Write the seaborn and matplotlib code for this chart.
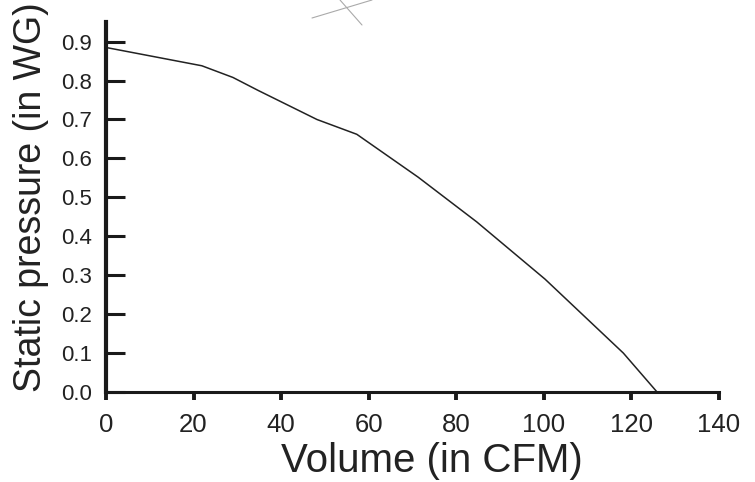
import matplotlib
matplotlib.use("Agg")
import matplotlib.pyplot as plt
import seaborn as sns
import pandas as pd
from matplotlib.lines import Line2D

volume_cfm = [0, 21.9, 29.0, 34.7, 48.2, 57.3, 71.3, 84.7, 100.3, 118.2, 125.9]
static_pressure = [0.885, 0.838, 0.808, 0.775, 0.70, 0.662, 0.552, 0.437, 0.29, 0.10, 0.0]
x_ticks = [0, 20, 40, 60, 80, 100, 120, 140]
y_ticks = [0.0, 0.1, 0.2, 0.3, 0.4, 0.5, 0.6, 0.7, 0.8, 0.9]

df = pd.DataFrame({"Volume": volume_cfm, "Pressure": static_pressure})

sns.set_style("white")
plt.rcParams["font.family"] = ["Liberation Sans", "DejaVu Sans"]

fig = plt.figure(figsize=(7.55, 4.82), dpi=100)
ax = fig.add_axes([0.1404, 0.1867, 0.8116, 0.7673])

sns.lineplot(data=df, x="Volume", y="Pressure", ax=ax, color="#222222",
             linewidth=1.1, sort=False)

ax.set_xlim(0, 140)
ax.set_ylim(0, 0.95)
ax.set_xticks(x_ticks)
ax.set_xticklabels([str(t) for t in x_ticks])
ax.set_yticks(y_ticks)
ax.set_yticklabels([f"{t:.1f}" for t in y_ticks])

for s in ["top", "right"]:
    ax.spines[s].set_visible(False)
ax.spines["left"].set_linewidth(3.0)
ax.spines["bottom"].set_linewidth(2.2)
ax.spines["left"].set_color("#1a1a1a")
ax.spines["bottom"].set_color("#1a1a1a")

ax.tick_params(axis="y", direction="in", length=14, width=2.2, colors="#1a1a1a",
               labelsize=16, pad=10, left=True)
ax.tick_params(axis="x", direction="out", length=6, width=2.8, colors="#1a1a1a",
               labelsize=18.5, pad=9, bottom=True)
for lab in ax.get_xticklabels() + ax.get_yticklabels():
    lab.set_color("#222222")

ax.set_xlabel("Volume (in CFM)", fontsize=29, color="#222222")
ax.set_ylabel("Static pressure (in WG)", fontsize=27, color="#222222")
W, H = 755, 482
ax_w = 0.8116 * W
ax_h = 0.7673 * H
# label positions in axes coordinates
ax.xaxis.set_label_coords((432 - 106) / ax_w, -(472 - 392) / ax_h)
ax.yaxis.set_label_coords(-(106 - 31) / ax_w, (392 - 197) / ax_h)
ax.xaxis.label.set_verticalalignment("baseline")
ax.yaxis.label.set_verticalalignment("center")

# faint grey cross mark at top of the figure
fig.add_artist(Line2D([312 / W, 372 / W], [1 - 18 / H, 1 - 0 / H], color="#aaaaaa", lw=0.8))
fig.add_artist(Line2D([340 / W, 362 / W], [1 - 0 / H, 1 - 25 / H], color="#aaaaaa", lw=0.8))

fig.savefig("out.png", dpi=100)
